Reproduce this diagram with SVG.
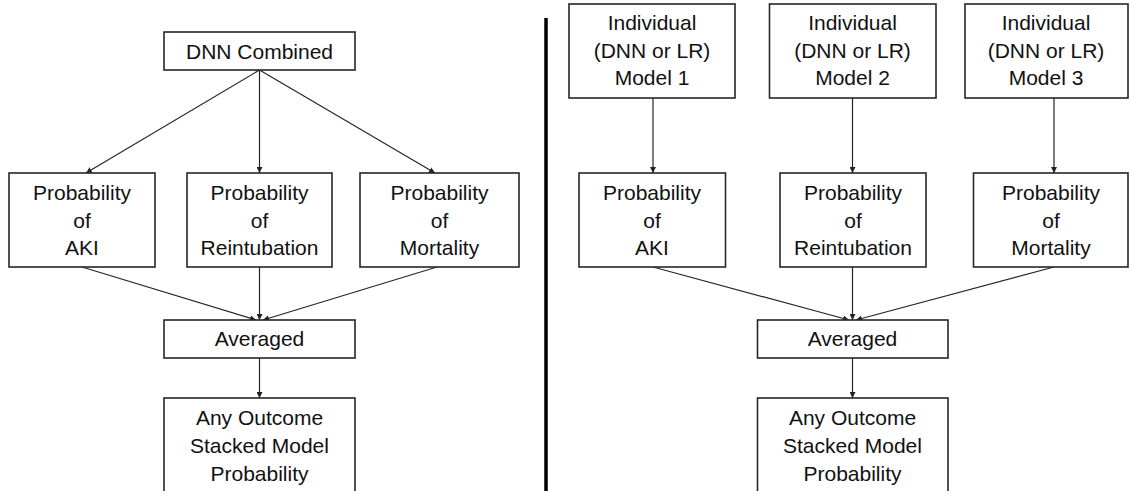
<svg xmlns="http://www.w3.org/2000/svg" width="1130" height="491" viewBox="0 0 1130 491">
<style>
.box{fill:#fff;stroke:#262626;stroke-width:1.6}
.t{font-family:"Liberation Sans",Arial,sans-serif;font-size:21px;fill:#111;text-anchor:middle}
.c{stroke:#262626;stroke-width:1.2;fill:none;marker-end:url(#ah)}
</style>
<defs>
<marker id="ah" viewBox="0 0 10 10" refX="10" refY="5" markerWidth="6" markerHeight="6" markerUnits="userSpaceOnUse" orient="auto">
<path d="M0,0 L10,5 L0,10 z" fill="#222"/>
</marker>
</defs>
<rect width="1130" height="491" fill="#fff"/>
<line x1="546" y1="18" x2="546" y2="491" stroke="#000" stroke-width="3.5"/>
<g id="connectors">
<line class="c" x1="259.5" y1="70" x2="86" y2="173"/>
<line class="c" x1="259.5" y1="70" x2="259.5" y2="173"/>
<line class="c" x1="259.5" y1="70" x2="435" y2="173"/>
<line class="c" x1="82" y1="267" x2="256" y2="320"/>
<line class="c" x1="259.5" y1="267" x2="259.5" y2="320"/>
<line class="c" x1="437" y1="267" x2="263" y2="320"/>
<line class="c" x1="259.5" y1="358" x2="259.5" y2="398"/>
<line class="c" x1="653" y1="98" x2="653" y2="173"/>
<line class="c" x1="852.5" y1="98" x2="852.5" y2="173"/>
<line class="c" x1="1054" y1="98" x2="1054" y2="173"/>
<line class="c" x1="653" y1="267" x2="849" y2="320"/>
<line class="c" x1="852.5" y1="267" x2="852.5" y2="320"/>
<line class="c" x1="1054" y1="267" x2="856" y2="320"/>
<line class="c" x1="852.5" y1="358" x2="852.5" y2="398"/>
</g>
<g id="dnn-combined"><rect class="box" x="164" y="32" width="191" height="38"/><text class="t" x="259.5" y="58.5">DNN Combined</text></g>
<g id="l-prob-aki"><rect class="box" x="9" y="173" width="146" height="94"/><text class="t" x="82" y="200">Probability</text><text class="t" x="82" y="228">of</text><text class="t" x="82" y="255">AKI</text></g>
<g id="l-prob-reint"><rect class="box" x="187" y="173" width="145" height="94"/><text class="t" x="259.5" y="200">Probability</text><text class="t" x="259.5" y="228">of</text><text class="t" x="259.5" y="255">Reintubation</text></g>
<g id="l-prob-mort"><rect class="box" x="360" y="173" width="159" height="94"/><text class="t" x="439.5" y="200">Probability</text><text class="t" x="439.5" y="228">of</text><text class="t" x="439.5" y="255">Mortality</text></g>
<g id="l-averaged"><rect class="box" x="164" y="320" width="191" height="38"/><text class="t" x="259.5" y="345.5">Averaged</text></g>
<g id="l-any"><rect class="box" x="164" y="398" width="191" height="110"/><text class="t" x="259.5" y="425">Any Outcome</text><text class="t" x="259.5" y="453">Stacked Model</text><text class="t" x="259.5" y="481">Probability</text></g>
<g id="ind-1"><rect class="box" x="569" y="4" width="166" height="94"/><text class="t" x="652" y="30">Individual</text><text class="t" x="652" y="57.5">(DNN or LR)</text><text class="t" x="652" y="85">Model 1</text></g>
<g id="ind-2"><rect class="box" x="769.5" y="4" width="166.5" height="94"/><text class="t" x="852.5" y="30">Individual</text><text class="t" x="852.5" y="57.5">(DNN or LR)</text><text class="t" x="852.5" y="85">Model 2</text></g>
<g id="ind-3"><rect class="box" x="965" y="4" width="163" height="94"/><text class="t" x="1046" y="30">Individual</text><text class="t" x="1046" y="57.5">(DNN or LR)</text><text class="t" x="1046" y="85">Model 3</text></g>
<g id="r-prob-aki"><rect class="box" x="579" y="173" width="146.5" height="94"/><text class="t" x="652" y="200">Probability</text><text class="t" x="652" y="228">of</text><text class="t" x="652" y="255">AKI</text></g>
<g id="r-prob-reint"><rect class="box" x="780" y="173" width="146" height="94"/><text class="t" x="853" y="200">Probability</text><text class="t" x="853" y="228">of</text><text class="t" x="853" y="255">Reintubation</text></g>
<g id="r-prob-mort"><rect class="box" x="973.5" y="173" width="154.5" height="94"/><text class="t" x="1051" y="200">Probability</text><text class="t" x="1051" y="228">of</text><text class="t" x="1051" y="255">Mortality</text></g>
<g id="r-averaged"><rect class="box" x="757.5" y="320" width="190.5" height="38"/><text class="t" x="852.5" y="345.5">Averaged</text></g>
<g id="r-any"><rect class="box" x="757.5" y="398" width="190.5" height="110"/><text class="t" x="852.5" y="425">Any Outcome</text><text class="t" x="852.5" y="453">Stacked Model</text><text class="t" x="852.5" y="481">Probability</text></g>
</svg>
